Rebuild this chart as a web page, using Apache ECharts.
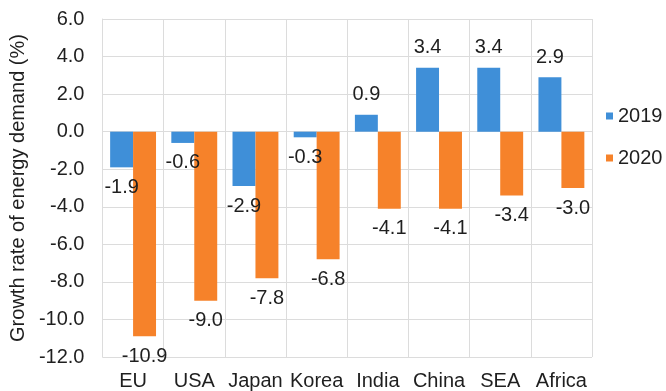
<!DOCTYPE html>
<html>
<head>
<meta charset="utf-8">
<script src="https://cdn.jsdelivr.net/npm/echarts@6/dist/echarts.min.js"></script>
<style>
  html, body { margin: 0; padding: 0; background: #fff; }
  #chart { width: 666px; height: 391px; }
</style>
</head>
<body>
<div id="chart"></div>
<script>
// Regions along the x axis
const regions = ['EU', 'USA', 'Japan', 'Korea', 'India', 'China', 'SEA', 'Africa'];
// Growth rate of energy demand (%) per year
const growth2019 = [-1.9, -0.6, -2.9, -0.3, 0.9, 3.4, 3.4, 2.9];
const growth2020 = [-10.9, -9.0, -7.8, -6.8, -4.1, -4.1, -3.4, -3.0];
// Value axis range
const yMin = -12, yMax = 6, yStep = 2;

const FONT = '"Liberation Sans", Arial, sans-serif';
const TEXT = '#1f1f1f';
const GRID = '#dcdcdc';

function labelled(values) {
  return values.map(v => ({
    value: v,
    label: { position: v >= 0 ? 'top' : 'bottom' }
  }));
}

const chart = echarts.init(document.getElementById('chart'), null, { renderer: 'canvas' });

chart.setOption({
  animation: false,
  backgroundColor: '#fff',
  textStyle: { fontFamily: FONT },
  grid: { left: 99, right: 74, top: 19, bottom: 34, containLabel: false },
  legend: {
    orient: 'vertical',
    left: 601,
    top: 101,
    itemWidth: 7,
    itemHeight: 7,
    itemGap: 22,
    icon: 'rect',
    textStyle: { fontFamily: FONT, fontSize: 20, color: TEXT },
    data: ['2019', '2020']
  },
  xAxis: {
    type: 'category',
    data: regions,
    position: 'bottom',
    axisLine: { show: false },
    axisTick: { show: false },
    splitLine: { show: true, lineStyle: { color: GRID, width: 1 } },
    axisLabel: { fontFamily: FONT, fontSize: 20, color: TEXT, margin: 14, interval: 0 }
  },
  yAxis: {
    type: 'value',
    min: yMin,
    max: yMax,
    interval: yStep,
    name: 'Growth rate of energy demand (%)',
    nameLocation: 'middle',
    nameGap: 71,
    nameTextStyle: { fontFamily: FONT, fontSize: 20, color: TEXT },
    axisLine: { show: true, lineStyle: { color: GRID } },
    axisTick: { show: false },
    splitLine: { show: true, lineStyle: { color: GRID, width: 1 } },
    axisLabel: {
      fontFamily: FONT, fontSize: 20, color: TEXT, margin: 18,
      formatter: v => v.toFixed(1)
    }
  },
  series: [
    {
      name: '2019',
      type: 'bar',
      data: labelled(growth2019),
      itemStyle: { color: '#3f8fd8' },
      barGap: '0%',
      barCategoryGap: '25%',
      label: {
        show: true, distance: 10, fontFamily: FONT, fontSize: 20, color: TEXT,
        formatter: p => p.value.toFixed(1)
      }
    },
    {
      name: '2020',
      type: 'bar',
      data: labelled(growth2020),
      itemStyle: { color: '#f6822a' },
      barGap: '0%',
      barCategoryGap: '25%',
      label: {
        show: true, distance: 10, fontFamily: FONT, fontSize: 20, color: TEXT,
        formatter: p => p.value.toFixed(1)
      }
    }
  ]
});
</script>
</body>
</html>
